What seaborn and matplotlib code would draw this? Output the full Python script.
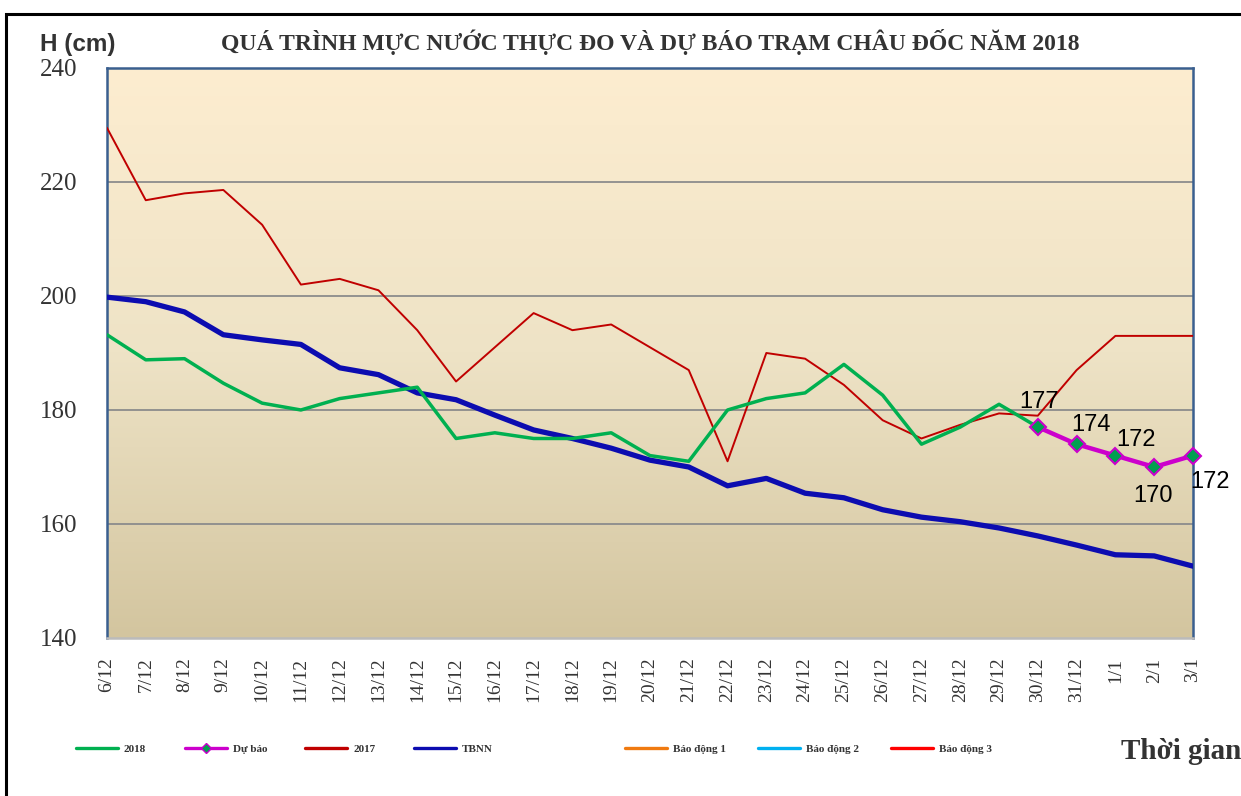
import numpy as np
import pandas as pd
import matplotlib
matplotlib.use("Agg")
import matplotlib.pyplot as plt
import seaborn as sns
from matplotlib.colors import LinearSegmentedColormap
from matplotlib.lines import Line2D
from matplotlib.patches import Rectangle

# Data
dates = ["6/12", "7/12", "8/12", "9/12", "10/12", "11/12", "12/12", "13/12", "14/12",
         "15/12", "16/12", "17/12", "18/12", "19/12", "20/12", "21/12", "22/12", "23/12",
         "24/12", "25/12", "26/12", "27/12", "28/12", "29/12", "30/12", "31/12", "1/1",
         "2/1", "3/1"]
h2018 = [193.2, 188.8, 189.0, 184.7, 181.2, 180.0, 182.0, 183.0, 184.0, 175.0, 176.0,
         175.0, 175.0, 176.0, 172.0, 171.0, 180.0, 182.0, 183.0, 188.0, 182.6, 174.0,
         177.0, 181.0, 177.0]
forecast_dates = ["30/12", "31/12", "1/1", "2/1", "3/1"]
forecast = [177, 174, 172, 170, 172]
h2017 = [229.5, 216.8, 218.0, 218.6, 212.5, 202.0, 203.0, 201.0, 194.0, 185.0, 191.0,
         197.0, 194.0, 195.0, 191.0, 187.0, 171.0, 190.0, 189.0, 184.4, 178.2, 175.0,
         177.4, 179.4, 179.0, 187.0, 193.0, 193.0, 193.0]
tbnn = [199.8, 199.0, 197.2, 193.2, 192.3, 191.5, 187.4, 186.2, 183.0, 181.8, 179.1,
        176.5, 175.0, 173.3, 171.2, 170.0, 166.7, 168.0, 165.4, 164.6, 162.5, 161.2,
        160.4, 159.3, 157.9, 156.3, 154.6, 154.4, 152.6]
# alarm levels at Chau Doc (off the visible scale)
bd1, bd2, bd3 = 350, 400, 450

x_all = np.arange(len(dates))
df2018 = pd.DataFrame({"x": x_all[:len(h2018)], "h": h2018})
dffc = pd.DataFrame({"x": [dates.index(d) for d in forecast_dates], "h": forecast})
df2017 = pd.DataFrame({"x": x_all, "h": h2017})
dftb = pd.DataFrame({"x": x_all, "h": tbnn})

serif = ["Liberation Serif", "DejaVu Serif"]
txtc = "#333333"
c18, cfc, c17, ctb = "#00B050", "#CC00CC", "#C00000", "#0C0CB0"
cbd1, cbd2, cbd3 = "#F07A10", "#00B0F0", "#FF0000"

sns.set_style("white")
fig = plt.figure(figsize=(12.41, 7.96), dpi=100)
ax = fig.add_axes([0.0862, 0.1985, 0.8751, 0.7161])

# gradient background
cmap = LinearSegmentedColormap.from_list("bg", ["#D3C59F", "#EEE3C6", "#FDEDD0"])
grad = np.linspace(0, 1, 256).reshape(-1, 1)
ax.imshow(grad, extent=[0, 1, 0, 1], transform=ax.transAxes, origin="lower",
          cmap=cmap, aspect="auto", zorder=0)

for yv in [160, 180, 200, 220]:
    ax.axhline(yv, color="#8C8C8C", lw=1.3, zorder=1)

sns.lineplot(data=df2017, x="x", y="h", color=c17, lw=1.4, ax=ax, zorder=3)
sns.lineplot(data=dftb, x="x", y="h", color=ctb, lw=3.8, ax=ax, zorder=4)
sns.lineplot(data=df2018, x="x", y="h", color=c18, lw=2.5, ax=ax, zorder=5)
sns.lineplot(data=dffc, x="x", y="h", color=cfc, lw=3.2, ax=ax, zorder=6,
             marker="D", markersize=8.5, markerfacecolor="#00A050",
             markeredgecolor=cfc, markeredgewidth=1.5, clip_on=False)
for lvl, c in [(bd1, cbd1), (bd2, cbd2), (bd3, cbd3)]:
    ax.plot(x_all, [lvl] * len(x_all), color=c, lw=2)

# data labels for forecast
offsets = [(1, 18), (10, 14), (15, 11), (-1, -21), (12, -19)]
for (xv, yv), off in zip(zip(dffc["x"], dffc["h"]), offsets):
    ax.annotate(f"{yv}", (xv, yv), xytext=off, textcoords="offset points",
                ha="center", va="center", fontsize=17, family=["Liberation Sans"],
                color="black", zorder=7, annotation_clip=False)

ax.set_xlim(0, len(dates) - 1)
ax.set_ylim(140, 240)
ax.set_yticks([140, 160, 180, 200, 220, 240])
ax.set_xticks(x_all)
ax.set_xticklabels(dates, rotation=90, fontsize=14, family=serif, color=txtc)
ax.set_yticklabels([str(v) for v in [140, 160, 180, 200, 220, 240]], fontsize=18,
                   family=serif, color=txtc)
ax.tick_params(axis="x", pad=14, length=0)
ax.tick_params(axis="y", pad=21, length=0)
ax.set_xlabel("")
ax.set_ylabel("")
for s in ax.spines.values():
    s.set_color("#3A5F8F")
    s.set_linewidth(1.8)
ax.spines["bottom"].set_color("#BBBBBB")

fig.text(0.032, 0.944, "H (cm)", fontsize=17.5, fontweight="bold", family=["Liberation Sans"],
         color=txtc, va="center")
fig.text(0.524, 0.947, "QUÁ TRÌNH MỰC NƯỚC THỰC ĐO VÀ DỰ BÁO TRẠM CHÂU ĐỐC NĂM 2018",
         fontsize=17, fontweight="bold", family=serif, color=txtc, ha="center", va="center")
fig.text(0.903, 0.056, "Thời gian", fontsize=21, fontweight="bold", family=serif,
         color=txtc, ha="left", va="center")

# figure border (left and top)
fig.add_artist(Rectangle((0.005, -0.1), 1.2, 1.083, transform=fig.transFigure, fill=False,
                         edgecolor="black", lw=2.2))

# legend, laid out as in the reference (line start in px, figure width 1241)
W, H = 1241, 796
leg_y = 1 - 750 / H
entries = [("2018", c18, 76, False), ("Dự báo", cfc, 185, True), ("2017", c17, 305, False),
           ("TBNN", ctb, 414, False), ("Báo động 1", cbd1, 625, False),
           ("Báo động 2", cbd2, 758, False), ("Báo động 3", cbd3, 891, False)]
for lab, col, x0, mk in entries:
    fig.add_artist(Line2D([x0 / W, (x0 + 42) / W], [leg_y + 0.002, leg_y + 0.002],
                          transform=fig.transFigure, color=col, lw=2.4))
    if mk:
        fig.add_artist(Line2D([(x0 + 21) / W], [leg_y + 0.002], transform=fig.transFigure,
                              marker="D", markersize=5, markerfacecolor="#00A050",
                              markeredgecolor=col, lw=0))
    fig.text((x0 + 48) / W, leg_y, lab, fontsize=8, fontweight="bold", family=serif,
             color=txtc, ha="left", va="center")

fig.savefig("out.png", dpi=100)
